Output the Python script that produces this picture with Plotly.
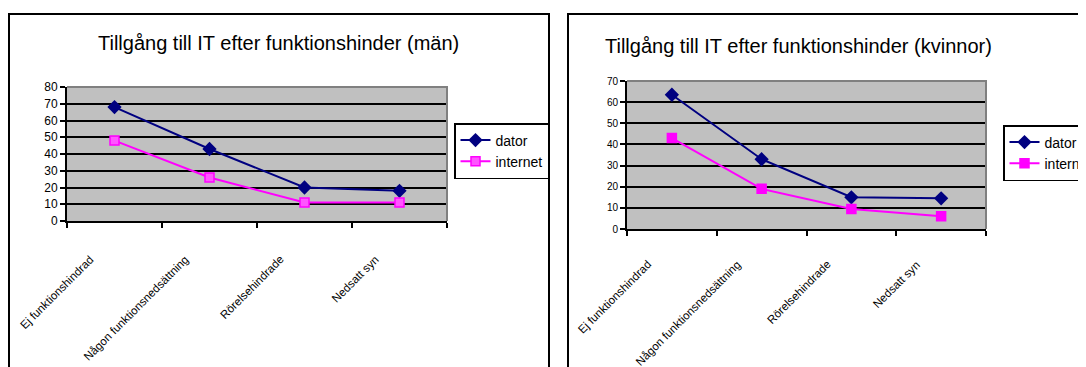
import plotly.graph_objects as go

categories = ["Ej funktionshindrad", "Någon funktionsnedsättning", "Rörelsehindrade", "Nedsatt syn"]
men_dator = [68, 43, 20, 18]
men_internet = [48, 26, 11, 11]
women_dator = [63.5, 33, 15, 14.5]
women_internet = [43, 19, 9.5, 6]
men_title = "Tillgång till IT efter funktionshinder (män)"
women_title = "Tillgång till IT efter funktionshinder (kvinnor)"
men_yticks = [0, 10, 20, 30, 40, 50, 60, 70, 80]
women_yticks = [0, 10, 20, 30, 40, 50, 60, 70]

W, H = 1086, 367
OFF = 8  # page body margin of the html page
FONT = "Arial, Liberation Sans, sans-serif"
NAVY = "#000080"
MAGENTA = "#FF00FF"


def px(x):
    return (x - OFF) / W


def py(y):
    return 1 - (y - OFF) / H


fig = go.Figure()

# men
fig.add_trace(go.Scatter(x=categories, y=men_dator, name="dator", mode="lines+markers",
                         line=dict(color=NAVY, width=2),
                         marker=dict(symbol="diamond", size=11, color=NAVY),
                         xaxis="x", yaxis="y", legend="legend"))
fig.add_trace(go.Scatter(x=categories, y=men_internet, name="internet", mode="lines+markers",
                         line=dict(color=MAGENTA, width=2),
                         marker=dict(symbol="square", size=9, color="#FF55FF",
                                     line=dict(color=MAGENTA, width=1.5)),
                         xaxis="x", yaxis="y", legend="legend"))
# women
fig.add_trace(go.Scatter(x=categories, y=women_dator, name="dator", mode="lines+markers",
                         line=dict(color=NAVY, width=2),
                         marker=dict(symbol="diamond", size=11, color=NAVY),
                         xaxis="x2", yaxis="y2", legend="legend2"))
fig.add_trace(go.Scatter(x=categories, y=women_internet, name="internet", mode="lines+markers",
                         line=dict(color=MAGENTA, width=2),
                         marker=dict(symbol="square", size=9, color=MAGENTA,
                                     line=dict(color=MAGENTA, width=1.5)),
                         xaxis="x2", yaxis="y2", legend="legend2"))

xcommon = dict(type="category", range=[-0.5, 3.5], showgrid=False, showline=True,
               linecolor="black", linewidth=2, ticks="outside", tickson="boundaries",
               ticklen=5, tickcolor="black", tickwidth=1.5, showticklabels=False,
               zeroline=False, fixedrange=True)
ycommon = dict(showgrid=True, gridcolor="black", gridwidth=2, showline=True,
               linecolor="black", linewidth=2, ticks="outside", ticklen=5,
               tickcolor="black", tickwidth=1.5, zeroline=False, fixedrange=True)

fig.update_layout(
    width=W, height=H,
    margin=dict(l=0, r=0, t=0, b=0, autoexpand=False),
    paper_bgcolor="white", plot_bgcolor="#C0C0C0",
    font=dict(family=FONT, color="black"),
    showlegend=True,
    xaxis=dict(domain=[px(67), px(447)], anchor="y", **xcommon),
    yaxis=dict(domain=[py(221), py(87)], anchor="x", range=[0, 80], tickvals=men_yticks,
               tickfont=dict(family=FONT, size=12, color="black"), **ycommon),
    xaxis2=dict(domain=[px(627), px(986)], anchor="y2", **xcommon),
    yaxis2=dict(domain=[py(229), py(81)], anchor="x2", range=[0, 70], tickvals=women_yticks,
                tickfont=dict(family=FONT, size=10, color="black"), **ycommon),
    legend=dict(x=px(454), y=py(123), xanchor="left", yanchor="top",
                bordercolor="black", borderwidth=1.5, bgcolor="white",
                font=dict(family=FONT, size=14, color="black"), itemwidth=30),
    legend2=dict(x=px(1003), y=py(125), xanchor="left", yanchor="top",
                 bordercolor="black", borderwidth=1.5, bgcolor="white",
                 font=dict(family=FONT, size=14, color="black"), itemwidth=30),
)

# category labels, rotated, positioned on the category axis
for xr, top in (("x", 252), ("x2", 257)):
    for cat in categories:
        fig.add_annotation(text=cat, xref=xr, yref="paper", x=cat, y=py(top),
                           xanchor="right", yanchor="top", textangle=-45, xshift=-17,
                           showarrow=False, borderpad=0,
                           font=dict(family=FONT, size=11.5, color="black"))

fig.add_annotation(text=men_title, xref="paper", yref="paper", x=px(278), y=py(43),
                   xanchor="center", yanchor="middle", showarrow=False,
                   font=dict(family=FONT, size=20, color="black"))
fig.add_annotation(text=women_title, xref="paper", yref="paper", x=px(798), y=py(46),
                   xanchor="center", yanchor="middle", showarrow=False,
                   font=dict(family=FONT, size=20, color="black"))

# chart frames
fig.add_shape(type="rect", xref="paper", yref="paper", x0=px(9), x1=px(549), y0=py(385), y1=py(14),
              line=dict(color="black", width=2), fillcolor="rgba(0,0,0,0)", layer="above")
fig.add_shape(type="rect", xref="paper", yref="paper", x0=px(568), x1=px(1105), y0=py(385), y1=py(14),
              line=dict(color="black", width=2), fillcolor="rgba(0,0,0,0)", layer="above")
# plot-area top/right border (grey)
for xr, yr in (("x", "y"), ("x2", "y2")):
    fig.add_shape(type="path", xref=xr + " domain", yref=yr + " domain",
                  path="M 0 1 L 1 1 L 1 0", line=dict(color="#808080", width=2), layer="above")

fig.write_html("out.html")
